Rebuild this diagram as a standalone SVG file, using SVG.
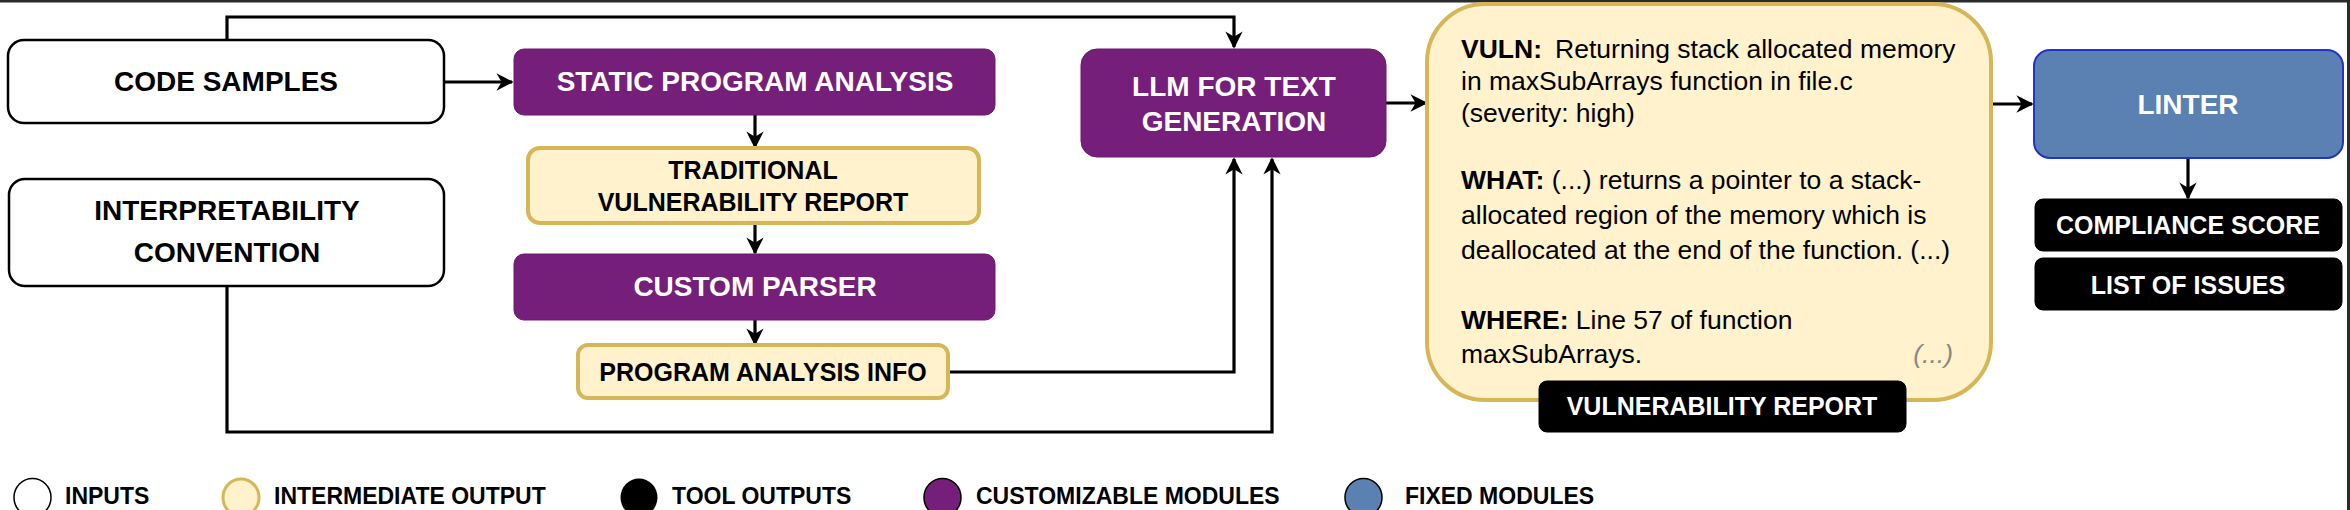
<svg xmlns="http://www.w3.org/2000/svg" width="2350" height="510" viewBox="0 0 2350 510">
<defs>
<marker id="ah" viewBox="0 0 10 10" refX="9" refY="5" markerWidth="5.4" markerHeight="5.4" orient="auto" markerUnits="strokeWidth">
<path d="M0,0 L10,5 L0,10 L3,5 Z" fill="#000"/>
</marker>
<style>
text{font-family:"Liberation Sans",Arial,Helvetica,sans-serif}
.t{font-weight:bold;font-size:28px;text-anchor:middle}
.s{font-weight:bold;font-size:25px;text-anchor:middle}
.w{fill:#fff}
.k{fill:#000}
.in{fill:#fff;stroke:#000;stroke-width:2.5}
.pu{fill:#761f7a;stroke:#6a1a6e;stroke-width:1}
.go{fill:#fff2cc;stroke:#d6b656;stroke-width:4}
.bl{fill:#000;stroke:#000;stroke-width:1}
.li{fill:#5a81b1;stroke:#2034cc;stroke-width:2}
.c{fill:none;stroke:#000;stroke-width:3.2}
.r{font-size:26.5px;fill:#000}
.b{font-weight:bold}
.lg{font-weight:bold;font-size:23px}
</style>
</defs>
<rect x="0" y="0" width="2350" height="510" fill="#fff"/>
<rect x="0" y="0" width="2350" height="2.5" fill="#2b2b2b"/>
<rect x="2347" y="0" width="3" height="510" fill="#2b2b2b"/>

<g id="connectors">
<path class="c" d="M227,40 V17 H1234 V47" marker-end="url(#ah)"/>
<path class="c" d="M444,82 H512" marker-end="url(#ah)"/>
<path class="c" d="M755,115 V147" marker-end="url(#ah)"/>
<path class="c" d="M755,223 V253" marker-end="url(#ah)"/>
<path class="c" d="M755,320 V344" marker-end="url(#ah)"/>
<path class="c" d="M948,372 H1234 V159" marker-end="url(#ah)"/>
<path class="c" d="M227,286 V432 H1272 V159" marker-end="url(#ah)"/>
<path class="c" d="M1386,103 H1426" marker-end="url(#ah)"/>
<path class="c" d="M1991,104 H2032" marker-end="url(#ah)"/>
<path class="c" d="M2188,158 V198" marker-end="url(#ah)"/>
</g>

<g id="code-samples">
<rect class="in" x="8" y="40" width="436" height="83" rx="16"/>
<text class="t k" x="226" y="91">CODE SAMPLES</text>
</g>
<g id="interpretability-convention">
<rect class="in" x="9" y="179" width="435" height="107" rx="16"/>
<text class="t k" x="227" y="220">INTERPRETABILITY</text>
<text class="t k" x="227" y="262">CONVENTION</text>
</g>
<g id="static-program-analysis">
<rect class="pu" x="514" y="49" width="481" height="66" rx="10"/>
<text class="t w" x="755" y="91">STATIC PROGRAM ANALYSIS</text>
</g>
<g id="traditional-report">
<rect class="go" x="528" y="148" width="451" height="75" rx="12"/>
<text class="s k" x="753" y="179">TRADITIONAL</text>
<text class="s k" x="753" y="211">VULNERABILITY REPORT</text>
</g>
<g id="custom-parser">
<rect class="pu" x="514" y="254" width="481" height="66" rx="10"/>
<text class="t w" x="755" y="296">CUSTOM PARSER</text>
</g>
<g id="program-analysis-info">
<rect class="go" x="578" y="345" width="370" height="53" rx="10"/>
<text class="s k" x="763" y="381">PROGRAM ANALYSIS INFO</text>
</g>
<g id="llm">
<rect class="pu" x="1081" y="49" width="305" height="108" rx="16"/>
<text class="t w" x="1234" y="96">LLM FOR TEXT</text>
<text class="t w" x="1234" y="131">GENERATION</text>
</g>
<g id="vulnerability-report">
<rect class="go" x="1427" y="4" width="564" height="396" rx="58"/>
<text class="r" x="1461" y="58"><tspan class="b">VULN:</tspan><tspan x="1555">Returning stack allocated memory</tspan></text>
<text class="r" x="1461" y="90">in maxSubArrays function in file.c</text>
<text class="r" x="1461" y="122">(severity: high)</text>
<text class="r" x="1461" y="189"><tspan class="b">WHAT:</tspan> (...) returns a pointer to a stack-</text>
<text class="r" x="1461" y="224">allocated region of the memory which is</text>
<text class="r" x="1461" y="259">deallocated at the end of the function. (...)</text>
<text class="r" x="1461" y="329"><tspan class="b">WHERE:</tspan> Line 57 of function</text>
<text class="r" x="1461" y="363">maxSubArrays.</text>
<text x="1953" y="363" style="font-size:26.5px;font-style:italic;fill:#888;text-anchor:end">(...)</text>
</g>
<g id="vulnerability-report-label">
<rect class="bl" x="1539" y="381" width="367" height="51" rx="8"/>
<text class="s w" x="1722" y="415">VULNERABILITY REPORT</text>
</g>
<g id="linter">
<rect class="li" x="2034" y="50" width="309" height="108" rx="16"/>
<text class="t w" x="2188" y="114">LINTER</text>
</g>
<g id="compliance-score">
<rect class="bl" x="2035" y="199" width="307" height="52" rx="8"/>
<text class="s w" x="2188" y="234">COMPLIANCE SCORE</text>
</g>
<g id="list-of-issues">
<rect class="bl" x="2035" y="258" width="307" height="52" rx="8"/>
<text class="s w" x="2188" y="294">LIST OF ISSUES</text>
</g>

<g id="legend">
<ellipse cx="32.5" cy="497.5" rx="18.5" ry="19" fill="#fff" stroke="#000" stroke-width="1.5"/>
<text class="lg" x="65" y="504">INPUTS</text>
<ellipse cx="241" cy="497.5" rx="18" ry="18.5" fill="#fff2cc" stroke="#d6b656" stroke-width="3"/>
<text class="lg" x="274" y="504">INTERMEDIATE OUTPUT</text>
<ellipse cx="639" cy="497.5" rx="18.5" ry="19" fill="#000"/>
<text class="lg" x="672" y="504">TOOL OUTPUTS</text>
<ellipse cx="942.5" cy="497.5" rx="18.5" ry="19" fill="#761f7a" stroke="#000" stroke-width="1.5"/>
<text class="lg" x="976" y="504">CUSTOMIZABLE MODULES</text>
<ellipse cx="1363.5" cy="497.5" rx="18.5" ry="19" fill="#5a81b1" stroke="#000" stroke-width="1.5"/>
<text class="lg" x="1405" y="504">FIXED MODULES</text>
</g>
</svg>
